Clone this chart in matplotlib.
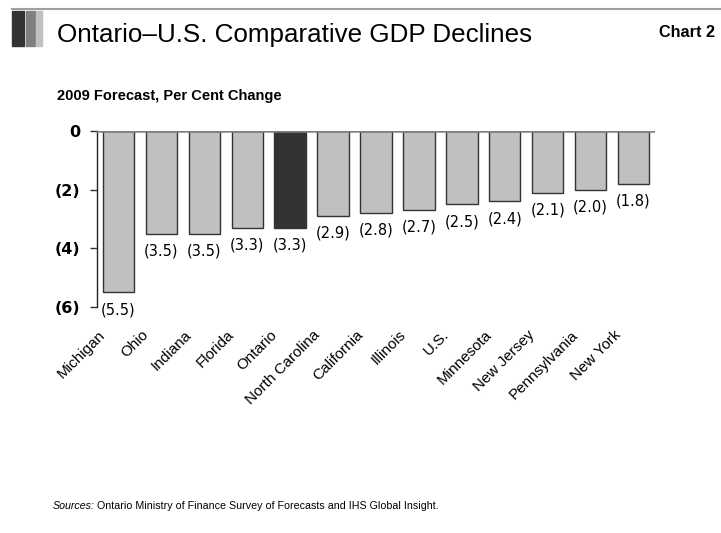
import matplotlib
matplotlib.use("Agg")
import matplotlib.pyplot as plt
import matplotlib.transforms as mtransforms
from matplotlib.patches import Rectangle

# data (2009 forecast, per cent change)
regions = ["Michigan", "Ohio", "Indiana", "Florida", "Ontario", "North Carolina",
           "California", "Illinois", "U.S.", "Minnesota", "New Jersey",
           "Pennsylvania", "New York"]
gdp_change = [-5.5, -3.5, -3.5, -3.3, -3.3, -2.9, -2.8, -2.7, -2.5, -2.4, -2.1, -2.0, -1.8]
yticks = [0, -2, -4, -6]
ytick_labels = ["0", "(2)", "(4)", "(6)"]

W, H = 721, 533
sans = ["Liberation Sans", "DejaVu Sans"]

fig = plt.figure(figsize=(W / 100, H / 100), dpi=100)

def px_rect(x0, y0, x1, y1, color):
    # rectangle given in pixel coords from the top-left corner
    fig.patches.append(Rectangle((x0 / W, 1 - y1 / H), (x1 - x0) / W, (y1 - y0) / H,
                                 transform=fig.transFigure, color=color, zorder=0))

# header decoration
fig.add_artist(plt.Line2D([12 / W, 1], [1 - 9 / H, 1 - 9 / H], color="#a0a0a0", lw=1.5))
px_rect(12, 11, 24, 46, "#333333")
px_rect(26, 11, 35, 46, "#808080")
px_rect(36, 11, 42, 46, "#c0c0c0")

fig.text(57 / W, 1 - 42 / H, "Ontario\u2013U.S. Comparative GDP Declines",
         family=sans, fontsize=18.7, va="baseline", ha="left")
fig.text(715 / W, 1 - 37 / H, "Chart 2", family=sans, fontsize=11.7,
         fontweight="bold", va="baseline", ha="right")
fig.text(57 / W, 1 - 100 / H, "2009 Forecast, Per Cent Change", family=sans,
         fontsize=10.5, fontweight="bold", va="baseline", ha="left")

# footer
src = fig.text(53 / W, 1 - 509 / H, "Sources:", family=sans, fontsize=7.7,
               style="italic", va="baseline", ha="left")
fig.canvas.draw()
bb = src.get_window_extent()
fig.text(bb.x1 / W + 0.003, 1 - 509 / H,
         "Ontario Ministry of Finance Survey of Forecasts and IHS Global Insight.",
         family=sans, fontsize=7.7, va="baseline", ha="left")

ax = fig.add_axes([97 / W, 1 - 307 / H, (655 - 97) / W, (307 - 131) / H])

colors = ["#333333" if r == "Ontario" else "#c0c0c0" for r in regions]
x = range(len(regions))
ax.bar(x, gdp_change, width=0.73, color=colors, edgecolor="#333333", linewidth=1, zorder=2)
ax.axhline(0, color="#808080", lw=1.8, zorder=3)

for i, v in enumerate(gdp_change):
    ax.annotate(f"({abs(v):.1f})", (i, v), xytext=(0, -7), textcoords="offset points",
                ha="center", va="top", fontsize=10.5, family="DejaVu Sans")

ax.set_xlim(-0.5, 12.5)
ax.set_ylim(-6, 0)
ax.set_yticks(yticks)
ax.set_yticklabels(ytick_labels, fontsize=11.5, fontweight="bold", family="DejaVu Sans")
ax.tick_params(axis="y", direction="out", length=5, width=1, color="#333333", pad=7)

ax.set_xticks(list(x))
ax.set_xticklabels(regions, rotation=45, ha="right", va="top", family=sans, fontsize=11)
ax.tick_params(axis="x", length=0, pad=15)
shift = mtransforms.ScaledTranslation(-10 / 100, 0, fig.dpi_scale_trans)
for lab in ax.get_xticklabels():
    lab.set_transform(lab.get_transform() + shift)

for s in ["top", "right", "bottom"]:
    ax.spines[s].set_visible(False)
ax.spines["left"].set_color("#222222")
ax.spines["left"].set_linewidth(1)

fig.savefig("out.png", dpi=100)
